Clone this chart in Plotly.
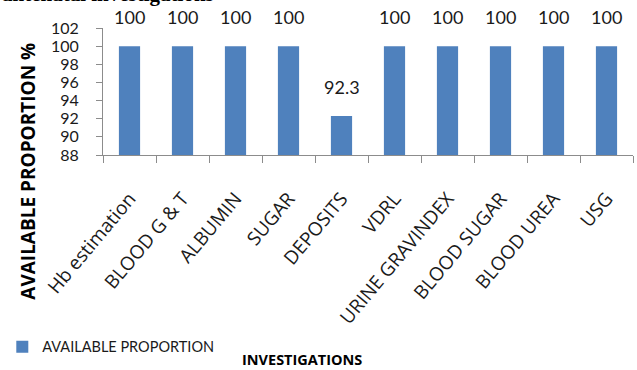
import plotly.graph_objects as go

# Availability of antenatal investigations (% of facilities)
investigations = [
    "Hb estimation", "BLOOD G & T", "ALBUMIN", "SUGAR", "DEPOSITS",
    "VDRL", "URINE GRAVINDEX", "BLOOD SUGAR", "BLOOD UREA", "USG",
]
available_pct = [100, 100, 100, 100, 92.3, 100, 100, 100, 100, 100]
y_ticks = [88, 90, 92, 94, 96, 98, 100, 102]

BAR_BLUE = "#4F81BD"
AXIS_GREY = "#8C8C8C"
FONT = "Lato"
LABEL_FONT = "Open Sans"

fig = go.Figure()
fig.add_trace(go.Bar(
    x=investigations,
    y=available_pct,
    name="AVAILABLE PROPORTION",
    marker=dict(color=BAR_BLUE, line=dict(width=0)),
))

# value labels above each bar
for cat, val in zip(investigations, available_pct):
    fig.add_annotation(
        x=cat, y=val, xref="x", yref="y",
        text=f"{val:g}", showarrow=False,
        yanchor="bottom", yshift=16,
        font=dict(family=FONT, size=18, color="#1a1a1a"),
    )

# axis titles
fig.add_annotation(
    x=-0.143, y=-0.13, xref="paper", yref="paper",
    text="<b>AVAILABLE PROPORTION %</b>", textangle=-90, showarrow=False,
    xanchor="center", yanchor="middle",
    font=dict(family="Open Sans", size=19, color="#000"),
)
fig.add_annotation(
    x=0.376, y=-1.614, xref="paper", yref="paper",
    text="<b>INVESTIGATIONS</b>", showarrow=False,
    xanchor="center", yanchor="middle",
    font=dict(family="Open Sans", size=14.5, color="#000"),
)
# heading above the chart
fig.add_annotation(
    x=-0.194, y=1.0, xref="paper", yref="paper",
    text="<b>antenatal investigations</b>", showarrow=False,
    xanchor="left", yanchor="bottom", yshift=20,
    font=dict(family="Liberation Serif", size=21, color="#000"),
)

fig.update_layout(
    width=637, height=370,
    margin=dict(l=103, r=4, t=28, b=215, autoexpand=False),
    paper_bgcolor="white", plot_bgcolor="white",
    bargap=0.6,
    showlegend=True,
    legend=dict(
        orientation="h", x=-0.19, y=-1.51, xanchor="left", yanchor="middle",
        font=dict(family=FONT, size=14.5, color="#1a1a1a"),
        itemwidth=30, bgcolor="rgba(0,0,0,0)",
    ),
    font=dict(family=FONT, color="#1a1a1a"),
)
fig.update_xaxes(
    type="category",
    tickangle=-50,
    tickfont=dict(family=LABEL_FONT, size=19, color="#1a1a1a"),
    ticks="outside", tickson="boundaries", ticklen=7, tickcolor=AXIS_GREY,
    showline=True, linecolor=AXIS_GREY, linewidth=1,
    showgrid=False, ticklabelstandoff=24,
)
fig.update_yaxes(
    range=[88, 102], tickvals=y_ticks,
    tickfont=dict(family=FONT, size=16, color="#1a1a1a"),
    ticks="outside", ticklen=6, tickcolor=AXIS_GREY,
    showline=True, linecolor=AXIS_GREY, linewidth=1,
    showgrid=False, zeroline=False, ticklabelstandoff=14,
)
fig.update_traces(cliponaxis=False)

fig.write_html("out.html")
